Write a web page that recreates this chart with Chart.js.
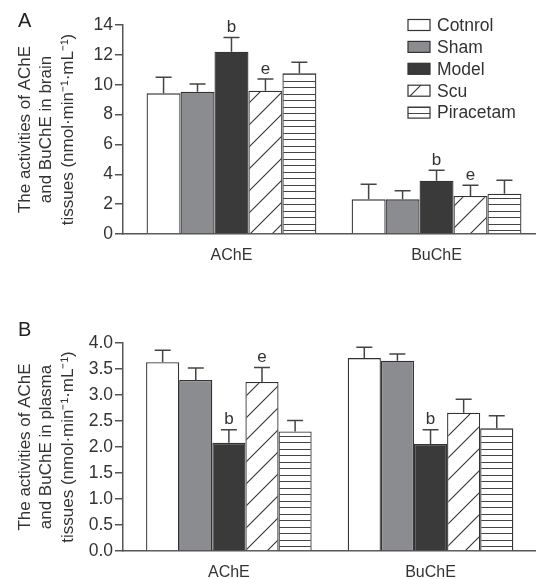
<!DOCTYPE html>
<html>
<head>
<meta charset="utf-8">
<script src="https://cdn.jsdelivr.net/npm/chart.js@4.4.0/dist/chart.umd.min.js"></script>
<style>
  body { margin: 0; background: #fff; width: 536px; height: 579px; position: relative; overflow: hidden; }
  .panel { position: absolute; left: 0; width: 536px; }
  #boxA { top: 0; height: 290px; }
  #boxB { top: 290px; height: 289px; }
  .tag { position: absolute; left: 18px; font: 20px/20px "Liberation Sans", Arial, sans-serif; color: #222; }
</style>
</head>
<body>
<div class="panel" id="boxA"><canvas id="chartA" width="536" height="290"></canvas></div>
<div class="panel" id="boxB"><canvas id="chartB" width="536" height="289"></canvas></div>
<div class="tag" style="top:10px">A</div>
<div class="tag" style="top:319px">B</div>
<script>
const seriesNames = ["Cotnrol", "Sham", "Model", "Scu", "Piracetam"];
const enzymes = ["AChE", "BuChE"];

// panel A - brain tissues, [AChE, BuChE]
const brainCotnrol = [9.42, 2.32];
const brainSham = [9.53, 2.32];
const brainModel = [12.21, 3.57];
const brainScu = [9.60, 2.55];
const brainPiracetam = [10.76, 2.70];
const brainErr = [[1.08, 1.01], [0.52, 0.58], [0.96, 0.70], [0.78, 0.71], [0.74, 0.90]];
const brainMarks = [["", ""], ["", ""], ["b", "b"], ["e", "e"], ["", ""]];

// panel B - plasma tissues, [AChE, BuChE]
const plasmaCotnrol = [3.63, 3.71];
const plasmaSham = [3.29, 3.66];
const plasmaModel = [2.08, 2.06];
const plasmaScu = [3.25, 2.66];
const plasmaPiracetam = [2.30, 2.36];
const plasmaErr = [[0.23, 0.21], [0.23, 0.13], [0.25, 0.27], [0.28, 0.26], [0.21, 0.24]];
const plasmaMarks = [["", ""], ["", ""], ["b", "b"], ["e", ""], ["", ""]];

const brainTicks = [0, 2, 4, 6, 8, 10, 12, 14];
const plasmaTicks = [0, 0.5, 1, 1.5, 2, 2.5, 3, 3.5, 4];

const FONT = '"Liberation Sans", Arial, sans-serif';
Chart.defaults.font.family = FONT;
Chart.defaults.color = "#333";

// fill patterns for Scu (diagonal) and Piracetam (horizontal lines)
function diagPattern() {
  const c = document.createElement("canvas");
  c.width = c.height = 22;
  const g = c.getContext("2d");
  g.fillStyle = "#fff";
  g.fillRect(0, 0, 22, 22);
  g.strokeStyle = "#333";
  g.lineWidth = 1.1;
  g.beginPath();
  g.moveTo(-2, 24); g.lineTo(24, -2);
  g.moveTo(-2, 2); g.lineTo(2, -2);
  g.moveTo(20, 24); g.lineTo(24, 20);
  g.stroke();
  return g.createPattern(c, "repeat");
}
function linePattern() {
  const c = document.createElement("canvas");
  c.width = 8; c.height = 13;
  const g = c.getContext("2d");
  g.fillStyle = "#fff";
  g.fillRect(0, 0, 8, 13);
  g.fillStyle = "#444";
  g.fillRect(0, 3, 8, 1);
  g.fillRect(0, 9, 8, 1);
  return g.createPattern(c, "repeat");
}
const fills = ["#ffffff", "#8b8c90", "#3a3a3a", diagPattern(), linePattern()];

const errorBars = {
  id: "errorBars",
  afterDatasetsDraw(chart) {
    const ctx = chart.ctx, y = chart.scales.y;
    ctx.save();
    ctx.strokeStyle = "#444";
    ctx.lineWidth = 1.5;
    ctx.fillStyle = "#333";
    ctx.font = "17px " + FONT;
    ctx.textAlign = "center";
    ctx.textBaseline = "alphabetic";
    chart.data.datasets.forEach((ds, i) => {
      chart.getDatasetMeta(i).data.forEach((bar, j) => {
        const top = y.getPixelForValue(ds.data[j].y + ds.err[j]);
        ctx.beginPath();
        ctx.moveTo(bar.x, bar.y);
        ctx.lineTo(bar.x, top);
        ctx.moveTo(bar.x - 8, top);
        ctx.lineTo(bar.x + 8, top);
        ctx.stroke();
        if (ds.marks[j]) ctx.fillText(ds.marks[j], bar.x, top - 5.5);
      });
    });
    ctx.restore();
  }
};

const boxLegend = {
  id: "boxLegend",
  afterDraw(chart, args, opts) {
    if (!opts.show) return;
    const ctx = chart.ctx;
    ctx.save();
    ctx.font = "17.5px " + FONT;
    ctx.textBaseline = "middle";
    ctx.lineWidth = 1.2;
    ctx.strokeStyle = "#333";
    chart.data.datasets.forEach((ds, i) => {
      const cy = opts.top + i * opts.gap;
      ctx.fillStyle = ds.backgroundColor;
      ctx.fillRect(opts.x, cy - 5.5, 22, 11);
      ctx.strokeRect(opts.x, cy - 5.5, 22, 11);
      ctx.fillStyle = "#333";
      ctx.fillText(ds.label, opts.x + 29, cy + 1);
    });
    ctx.restore();
  }
};

function makeSets(means, errs, marks, catPct) {
  return seriesNames.map((name, i) => ({
    label: name,
    data: means[i].map((v, j) => ({ x: j, y: v })),
    err: errs[i],
    marks: marks[i],
    backgroundColor: fills[i],
    borderColor: "#333",
    borderWidth: 1.3,
    categoryPercentage: catPct,
    barPercentage: 1
  }));
}

function makeChart(id, cfg) {
  return new Chart(document.getElementById(id), {
    type: "bar",
    data: { datasets: makeSets(cfg.means, cfg.errs, cfg.marks, cfg.catPct) },
    options: {
      responsive: false,
      animation: false,
      layout: { padding: { top: cfg.padTop, left: 0, right: 0, bottom: 0 } },
      plugins: {
        legend: { display: false },
        tooltip: { enabled: false },
        boxLegend: cfg.legend
      },
      scales: {
        x: {
          type: "linear",
          offset: false,
          bounds: "data",
          min: cfg.xMin,
          max: cfg.xMax,
          afterBuildTicks(s) { s.ticks = enzymes.map((_, i) => ({ value: i })); },
          ticks: { callback: v => enzymes[v], font: { size: 16 }, padding: cfg.xPad, autoSkip: false, maxRotation: 0 },
          grid: { display: false, drawTicks: false, offset: false },
          border: { color: "#555", width: 1.5 },
          afterFit(s) { s.height = cfg.xHeight; }
        },
        y: {
          min: cfg.yTicks[0],
          max: cfg.yTicks[cfg.yTicks.length - 1],
          afterBuildTicks(s) { s.ticks = cfg.yTicks.map(v => ({ value: v })); },
          ticks: { callback: cfg.yFmt, font: { size: 17.5 }, padding: 2 },
          grid: { drawOnChartArea: false, drawTicks: true, tickLength: 8, color: "#555", lineWidth: 1.5 },
          border: { color: "#555", width: 1.5 },
          title: {
            display: true,
            text: cfg.title,
            font: { size: 17, lineHeight: 1.28 },
            padding: { top: 14, bottom: 0 }
          },
          afterFit(s) { s.width = 123; }
        }
      }
    },
    plugins: [errorBars, boxLegend]
  });
}

makeChart("chartA", {
  means: [brainCotnrol, brainSham, brainModel, brainScu, brainPiracetam],
  errs: brainErr,
  marks: brainMarks,
  catPct: 0.828,
  xMin: -0.529, xMax: 1.485,
  padTop: 25, xHeight: 56, xPad: 12,
  yTicks: brainTicks,
  yFmt: v => String(v),
  title: ["The activities of AChE", "and BuChE in brain", "tissues (nmol\u00b7min\u207b\u00b9\u00b7mL\u207b\u00b9)"],
  legend: { show: true, x: 408, top: 25, gap: 21.9 }
});

makeChart("chartB", {
  means: [plasmaCotnrol, plasmaSham, plasmaModel, plasmaScu, plasmaPiracetam],
  errs: plasmaErr,
  marks: plasmaMarks,
  catPct: 0.821,
  xMin: -0.525, xMax: 1.523,
  padTop: 53, xHeight: 28, xPad: 12,
  yTicks: plasmaTicks,
  yFmt: v => v.toFixed(1),
  title: ["The activities of AChE", "and BuChE in plasma", "tissues (nmol\u00b7min\u207b\u00b9\u00b7mL\u207b\u00b9)"],
  legend: { show: false }
});
</script>
</body>
</html>
